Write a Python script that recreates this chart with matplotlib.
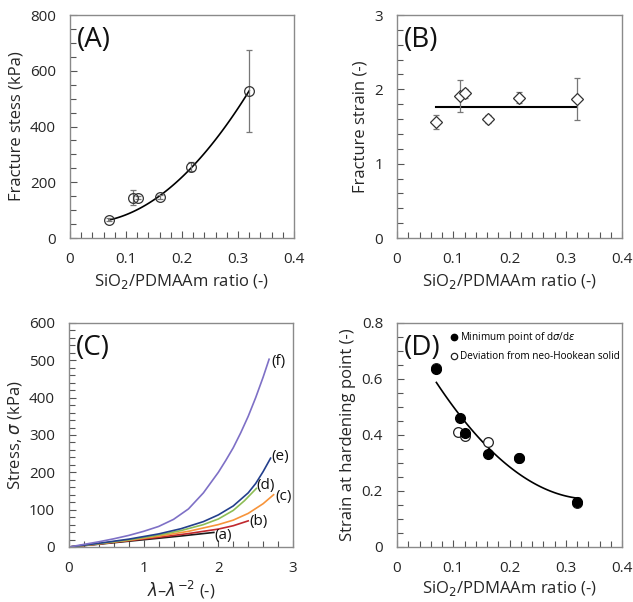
import numpy as np
import matplotlib
matplotlib.use("Agg")
import matplotlib.pyplot as plt
from matplotlib.ticker import MultipleLocator, FuncFormatter

plt.rcParams['font.family'] = ['Open Sans', 'DejaVu Sans']
plt.rcParams['mathtext.fontset'] = 'dejavusans'

# ---------------- data ----------------
ratio = [0.07, 0.112, 0.121, 0.161, 0.216, 0.32]

# (A) fracture stress
stress_kpa = [66, 145, 145, 147, 256, 527]
stress_err = [5, 26, 5, 6, 16, 146]
fit_points_A = [0, 3, 4, 5]   # samples used by the trend line

# (B) fracture strain
strain = [1.56, 1.91, 1.95, 1.60, 1.89, 1.87]
strain_err = [0.09, 0.22, 0.06, 0.05, 0.07, 0.28]
strain_level = 1.76

# (C) stress vs lambda - lambda^-2
curve_labels = ['(a)', '(b)', '(c)', '(d)', '(e)', '(f)']
curve_colors = ['#1a1a1a', '#c0282e', '#f7943a', '#8dbd55', '#233f8c', '#7e70c6']
cx_a = [0, 0.5, 1.0, 1.5, 1.94]
cy_a = [0, 9.5, 19.5, 29.5, 39]
cx_b = [0, 0.4, 0.8, 1.2, 1.6, 2.0, 2.2, 2.4]
cy_b = [0, 8, 17, 26, 36, 48, 57, 70]
cx_c = [0, 0.4, 0.8, 1.2, 1.6, 2.0, 2.2, 2.4, 2.6, 2.74]
cy_c = [0, 9, 18, 29, 42, 60, 72, 90, 116, 140]
cx_d = [0, 0.4, 0.8, 1.2, 1.5, 1.8, 2.0, 2.2, 2.35, 2.51]
cy_d = [0, 9, 19, 32, 44, 60, 75, 98, 124, 157]
cx_e = [0, 0.4, 0.8, 1.2, 1.5, 1.8, 2.0, 2.2, 2.4, 2.5, 2.6, 2.7]
cy_e = [0, 10, 21, 35, 49, 68, 86, 110, 145, 170, 202, 238]
cx_f = [0, 0.2, 0.4, 0.6, 0.8, 1.0, 1.2, 1.4, 1.6, 1.8, 2.0, 2.1, 2.2, 2.3, 2.4, 2.5, 2.6, 2.68]
cy_f = [0, 7, 14, 22, 31, 42, 55, 74, 102, 145, 200, 232, 266, 306, 350, 400, 455, 503]

# (D) strain at hardening point
ratio_open = [0.07, 0.108, 0.121, 0.161, 0.216, 0.32]
harden_min = [0.634, 0.461, 0.407, 0.331, 0.318, 0.162]
harden_dev = [0.640, 0.410, 0.396, 0.375, 0.318, 0.156]

# ---------------- figure ----------------
fig = plt.figure(figsize=(6.33, 6.02), dpi=100)
W, H = 633, 602

def make_ax(l, r, t, b):
    return fig.add_axes([l / W, 1 - b / H, (r - l) / W, (b - t) / H])

axA = make_ax(70, 294, 15, 238)
axB = make_ax(397, 622, 15, 238)
axC = make_ax(69, 293, 323, 547)
axD = make_ax(397, 622, 323, 547)

spine_c = '#8a8a8a'
txt_c = '#262626'

def fmt(v, pos):
    if abs(v) < 1e-9:
        return '0'
    if abs(v - round(v)) < 1e-9:
        return '%d' % round(v)
    return '%.1f' % v

def style(ax, xmaj, xmin, ymaj, ymin):
    for s in ['top', 'right', 'left', 'bottom']:
        ax.spines[s].set_color(spine_c)
        ax.spines[s].set_linewidth(1.0)
    ax.xaxis.set_major_locator(MultipleLocator(xmaj))
    ax.xaxis.set_minor_locator(MultipleLocator(xmin))
    ax.yaxis.set_major_locator(MultipleLocator(ymaj))
    ax.yaxis.set_minor_locator(MultipleLocator(ymin))
    ax.xaxis.set_major_formatter(FuncFormatter(fmt))
    ax.yaxis.set_major_formatter(FuncFormatter(fmt))
    ax.tick_params(which='both', direction='in', color='#555555', width=0.8,
                   top=False, right=False, labelsize=11, labelcolor=txt_c)
    ax.tick_params(which='major', length=5)
    ax.tick_params(which='minor', length=4)
    ax.tick_params(axis='x', which='major', pad=10)
    ax.tick_params(axis='y', which='major', pad=10)

xlab = 'SiO$_2$/PDMAAm ratio (-)'

# (A)
axA.set_xlim(0, 0.4)
axA.set_ylim(0, 800)
style(axA, 0.1, 0.02, 200, 50)
xf = np.linspace(min(ratio), max(ratio), 100)
fxA = [ratio[i] for i in fit_points_A]
fyA = [stress_kpa[i] for i in fit_points_A]
pA = np.polyfit(fxA, fyA, 2)
axA.plot(xf, np.polyval(pA, xf), color='black', lw=1.2, zorder=3)
axA.errorbar(ratio, stress_kpa, yerr=stress_err, fmt='o', mfc='none', mec='#333333',
             ms=7, mew=0.9, ecolor='#777777', elinewidth=0.9, capsize=2, zorder=4)
axA.set_ylabel('Fracture stess (kPa)', fontsize=12, color=txt_c)
axA.set_xlabel(xlab, fontsize=12, color=txt_c, labelpad=4)
axA.text(0.03, 0.95, '(A)', transform=axA.transAxes, fontsize=20, va='top', ha='left', color='#111111')

# (B)
axB.set_xlim(0, 0.4)
axB.set_ylim(0, 3)
style(axB, 0.1, 0.02, 1, 0.2)
axB.plot([min(ratio), max(ratio)], [strain_level, strain_level], color='black', lw=1.5, zorder=3)
axB.errorbar(ratio, strain, yerr=strain_err, fmt='D', mfc='white', mec='#333333',
             ms=6, mew=0.9, ecolor='#777777', elinewidth=0.9, capsize=2, zorder=4)
axB.set_ylabel('Fracture strain (-)', fontsize=12, color=txt_c)
axB.set_xlabel(xlab, fontsize=12, color=txt_c, labelpad=4)
axB.text(0.03, 0.95, '(B)', transform=axB.transAxes, fontsize=20, va='top', ha='left', color='#111111')

# (C)
axC.set_xlim(0, 3)
axC.set_ylim(0, 600)
style(axC, 1, 0.2, 100, 20)
cxs = [cx_a, cx_b, cx_c, cx_d, cx_e, cx_f]
cys = [cy_a, cy_b, cy_c, cy_d, cy_e, cy_f]
label_off = [(0.12, -8), (0.14, -3), (0.13, -6), (0.12, 9), (0.13, 5), (0.13, -6)]
for xs, ys, c, lab, off in zip(cxs, cys, curve_colors, curve_labels, label_off):
    axC.plot(xs, ys, color=c, lw=1.2)
    axC.text(xs[-1] + off[0], ys[-1] + off[1], lab, fontsize=11, color='#111111',
             ha='center', va='center')
axC.set_ylabel(r'Stress, $\sigma$ (kPa)', fontsize=12, color=txt_c)
axC.set_xlabel(r'$\lambda$–$\lambda^{-2}$ (-)', fontsize=12, color=txt_c, labelpad=2)
axC.text(0.03, 0.95, '(C)', transform=axC.transAxes, fontsize=20, va='top', ha='left', color='#111111')

# (D)
axD.set_xlim(0, 0.4)
axD.set_ylim(0, 0.8)
style(axD, 0.1, 0.02, 0.2, 0.05)
allx = ratio + ratio_open
ally = harden_min + harden_dev
pD = np.polyfit(allx, ally, 2)
xd = np.linspace(min(allx), 0.325, 100)
axD.plot(xd, np.polyval(pD, xd), color='black', lw=1.2, zorder=2)
axD.plot(ratio_open, harden_dev, 'o', mfc='white', mec='#222222', ms=7, mew=0.9,
         zorder=3, label='Deviation from neo-Hookean solid')
axD.plot(ratio, harden_min, 'o', color='black', ms=7, zorder=4,
         label=r'Minimum point of d$\sigma$/d$\varepsilon$')
h, l = axD.get_legend_handles_labels()
axD.legend(h[::-1], l[::-1], loc='upper left', bbox_to_anchor=(0.2, 1.0), frameon=False,
           fontsize=7.2, handletextpad=0.1, markerscale=0.65, borderaxespad=0.3,
           labelspacing=0.6, handlelength=1.0)
axD.set_ylabel('Strain at hardening point (-)', fontsize=12, color=txt_c)
axD.set_xlabel(xlab, fontsize=12, color=txt_c, labelpad=2)
axD.text(0.03, 0.95, '(D)', transform=axD.transAxes, fontsize=20, va='top', ha='left', color='#111111')

fig.savefig('out.png', dpi=100)
